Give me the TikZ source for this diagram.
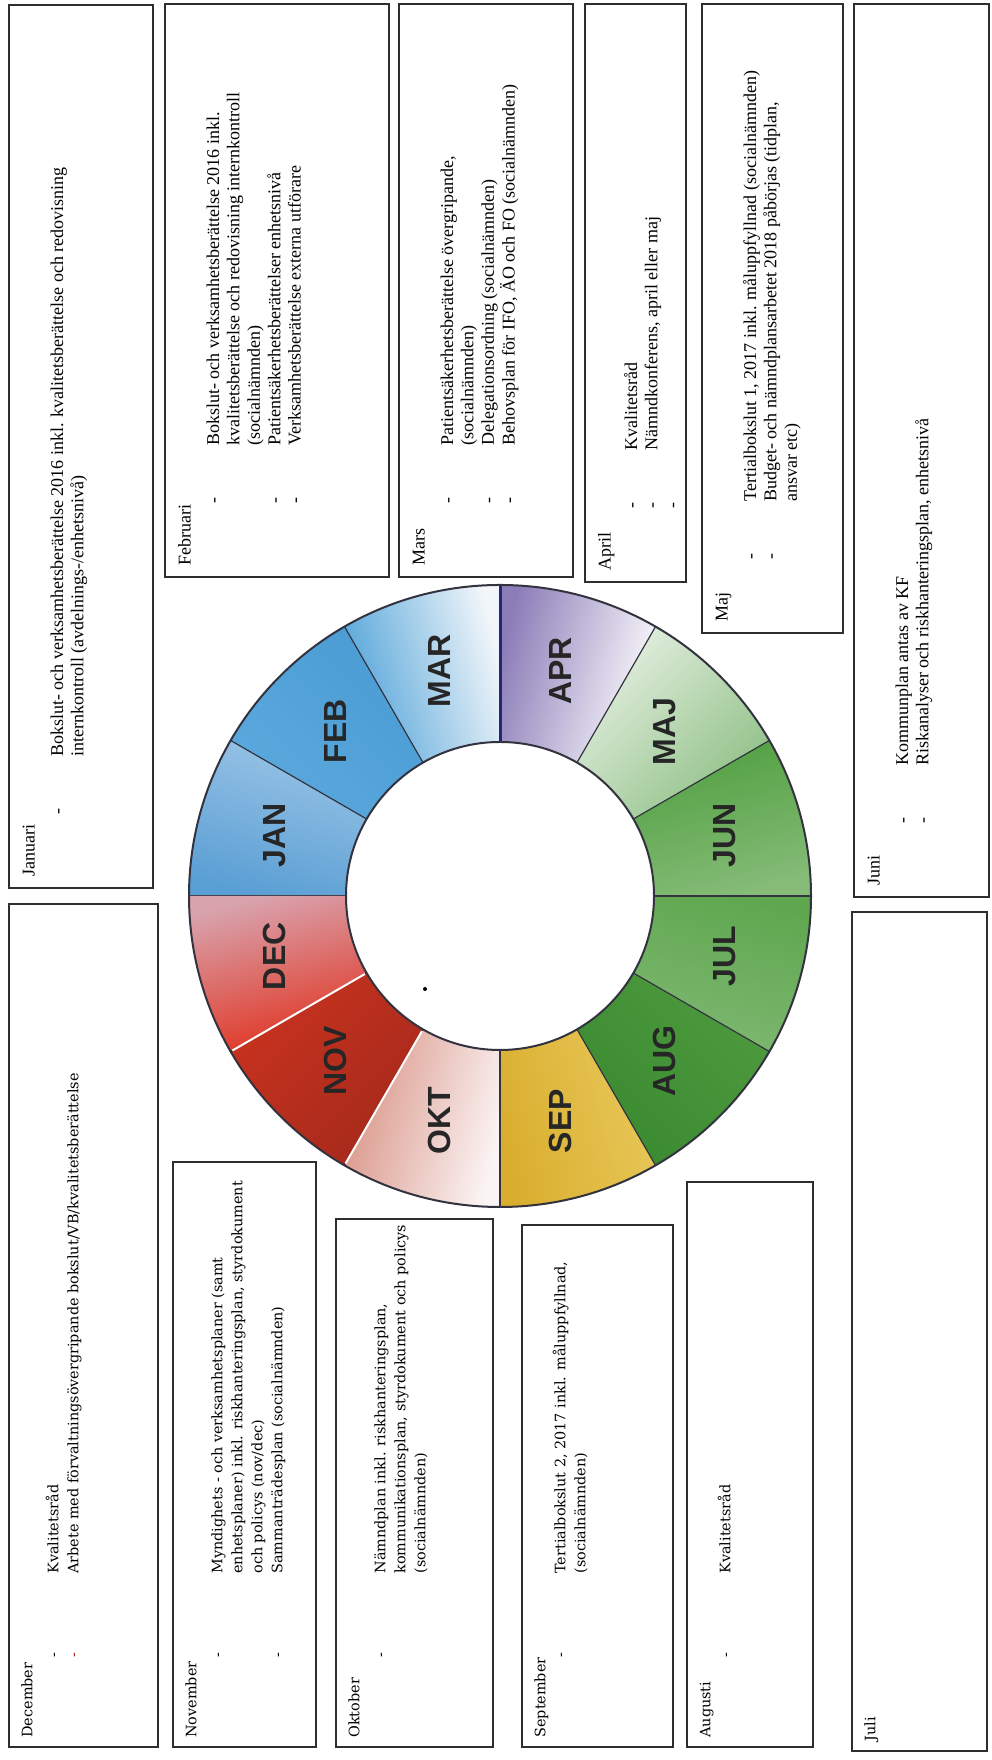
\documentclass[tikz,border=0pt]{standalone}
\usepackage{fontspec}
\setmainfont{Liberation Serif}
\newfontfamily\widefont{DejaVu Serif}
\newfontfamily\labelfont{Liberation Sans}
\usepackage{tikz}
\usetikzlibrary{positioning}
\definecolor{boxline}{rgb}{0.18,0.18,0.18}
\definecolor{ringline}{rgb}{0.2,0.2,0.25}
\definecolor{navy}{rgb}{0.15,0.15,0.45}
\definecolor{dashred}{rgb}{0.65,0.1,0.1}
% ring colours
\definecolor{janA}{HTML}{5A9FD4}\definecolor{janB}{HTML}{9AC4E6}
\definecolor{febA}{HTML}{5BA9DD}\definecolor{febB}{HTML}{4A9CD4}
\definecolor{marA}{HTML}{4FA2D8}\definecolor{marB}{HTML}{F2F6FA}
\definecolor{aprA}{HTML}{8C7DB8}\definecolor{aprB}{HTML}{FFFFFF}
\definecolor{majA}{HTML}{E4EFE0}\definecolor{majB}{HTML}{8FC086}
\definecolor{junA}{HTML}{4F9F40}\definecolor{junB}{HTML}{86BC78}
\definecolor{julA}{HTML}{5FA74F}\definecolor{julB}{HTML}{7FB872}
\definecolor{augA}{HTML}{4E9A3E}\definecolor{augB}{HTML}{3A8A30}
\definecolor{sepA}{HTML}{E8C85A}\definecolor{sepB}{HTML}{D9AE2E}
\definecolor{oktA}{HTML}{FBF4F4}\definecolor{oktB}{HTML}{D99486}
\definecolor{novA}{HTML}{A52A1C}\definecolor{novB}{HTML}{C8321E}
\definecolor{decA}{HTML}{E0321E}\definecolor{decB}{HTML}{D9A3AE}

\newcommand{\uptextfont}{\fontsize{9}{10.2}\selectfont}
\newcommand{\lowtextfont}{\widefont\fontsize{7.2}{10}\selectfont}
\newcommand{\hd}[1]{\multicolumn{3}{@{}l@{}}{#1}}
\newenvironment{uplist}{\begin{tabular}{@{}p{19pt}p{17pt}l@{}}}{\end{tabular}}
\newenvironment{lowlist}{\begin{tabular}{@{}p{28pt}p{30pt}l@{}}}{\end{tabular}}

\begin{document}
\begin{tikzpicture}[x=0.5pt, y=0.5pt,
    mbox/.style = {draw=boxline, line width=0.8pt, anchor=south west, inner sep=0pt},
    uptext/.style = {rotate=90, anchor=north west, inner sep=0pt, font=\uptextfont},
    lowtext/.style = {rotate=90, anchor=north west, inner sep=0pt, font=\lowtextfont},
    segline/.style = {draw=ringline, line width=0.6pt},
    monthlabel/.style = {rotate=90, text=black!85, font=\labelfont\bfseries\fontsize{16}{16}\selectfont}
    ]
    \fill[white] (0,0) rectangle (991,1760);
    \useasboundingbox (0,0) rectangle (991,1760);

    % upper boxes
    \node[mbox, minimum width=72pt, minimum height=441.5pt] (jan) at (8,871) {};
    \node[mbox, minimum width=112pt, minimum height=286.5pt] (feb) at (164,1182) {};
    \node[mbox, minimum width=87pt, minimum height=286.5pt] (mar) at (398,1182) {};
    \node[mbox, minimum width=50.5pt, minimum height=289pt] (apr) at (584,1177) {};
    \node[mbox, minimum width=70.5pt, minimum height=314.5pt] (maj) at (701,1126) {};
    \node[mbox, minimum width=67.5pt, minimum height=446.5pt] (jun) at (853,862) {};
    % lower boxes
    \node[mbox, minimum width=74.5pt, minimum height=421.5pt] (dec) at (8,12) {};
    \node[mbox, minimum width=71.5pt, minimum height=292.5pt] (nov) at (172,12) {};
    \node[mbox, minimum width=78.5pt, minimum height=264pt] (okt) at (335,12) {};
    \node[mbox, minimum width=75.5pt, minimum height=261pt] (sep) at (521,12) {};
    \node[mbox, minimum width=63pt, minimum height=282.5pt] (aug) at (686,12) {};
    \node[mbox, minimum width=67.5pt, minimum height=419.5pt] (jul) at (851,8) {};

    % texts
    \node[uptext] (jantext) at ([shift={(12,12)}]jan.south west) {\begin{uplist}
        \hd{Januari}\\[4pt]
        & - & Bokslut- och verksamhetsberättelse 2016 inkl. kvalitetsberättelse och redovisning\\
        & & internkontroll (avdelnings-/enhetsnivå)
        \end{uplist}};
    \node[uptext] (febtext) at ([shift={(12,12)}]feb.south west) {\begin{uplist}
        \hd{Februari}\\[4pt]
        & - & Bokslut- och verksamhetsberättelse 2016 inkl.\\
        & & kvalitetsberättelse och redovisning internkontroll\\
        & & (socialnämnden)\\
        & - & Patientsäkerhetsberättelser enhetsnivå\\
        & - & Verksamhetsberättelse externa utförare
        \end{uplist}};
    \node[uptext] (martext) at ([shift={(12,12)}]mar.south west) {\begin{uplist}
        \hd{Mars}\\[4pt]
        & - & Patientsäkerhetsberättelse övergripande,\\
        & & (socialnämnden)\\
        & - & Delegationsordning (socialnämnden)\\
        & - & Behovsplan för IFO, ÄO och FO (socialnämnden)
        \end{uplist}};
    \node[uptext] (aprtext) at ([shift={(12,12)}]apr.south west) {\begin{uplist}
        \hd{April}\\[3pt]
        & - & Kvalitetsråd\\
        & - & Nämndkonferens, april eller maj\\
        & - &
        \end{uplist}};
    \node[uptext] (majtext) at ([shift={(12,12)}]maj.south west) {\begin{uplist}
        \hd{Maj}\\[4pt]
        & - & Tertialbokslut 1, 2017 inkl. måluppfyllnad (socialnämnden)\\
        & - & Budget- och nämndplansarbetet 2018 påbörjas (tidplan,\\
        & & ansvar etc)
        \end{uplist}};
    \node[uptext] (juntext) at ([shift={(12,12)}]jun.south west) {\begin{uplist}
        \hd{Juni}\\[4pt]
        & - & Kommunplan antas av KF\\
        & - & Riskanalyser och riskhanteringsplan, enhetsnivå
        \end{uplist}};
    \node[lowtext] (dectext) at ([shift={(10,10)}]dec.south west) {\begin{lowlist}
        \hd{December}\\[3pt]
        & - & Kvalitetsråd\\
        & \textcolor{dashred}{-} & Arbete med förvaltningsövergripande bokslut/VB/kvalitetsberättelse
        \end{lowlist}};
    \node[lowtext] (novtext) at ([shift={(10,10)}]nov.south west) {\begin{lowlist}
        \hd{November}\\[3pt]
        & - & Myndighets - och verksamhetsplaner (samt\\
        & & enhetsplaner) inkl. riskhanteringsplan, styrdokument\\
        & & och policys (nov/dec)\\
        & - & Sammanträdesplan (socialnämnden)
        \end{lowlist}};
    \node[lowtext] (okttext) at ([shift={(10,10)}]okt.south west) {\begin{lowlist}
        \hd{Oktober}\\[3pt]
        & - & Nämndplan inkl. riskhanteringsplan,\\
        & & kommunikationsplan, styrdokument och policys\\
        & & (socialnämnden)
        \end{lowlist}};
    \node[lowtext] (septext) at ([shift={(10,10)}]sep.south west) {\begin{lowlist}
        \hd{September}\\
        & - & Tertialbokslut 2, 2017 inkl. måluppfyllnad,\\
        & & (socialnämnden)
        \end{lowlist}};
    \node[lowtext] (augtext) at ([shift={(10,10)}]aug.south west) {\begin{lowlist}
        \hd{Augusti}\\
        & - & Kvalitetsråd
        \end{lowlist}};
    \node[lowtext] (jultext) at ([shift={(10,10)}]jul.south west) {\begin{lowlist}
        \hd{Juli}
        \end{lowlist}};

    % year wheel
    \begin{scope}[shift={(500,864)}]
        \foreach \nm/\a/\ca/\cb [evaluate=\a as \m using \a-15, evaluate=\a as \e using \a-30] in
            {JAN/180/janA/janB, FEB/150/febA/febB, MAR/120/marA/marB,
             APR/90/aprA/aprB, MAJ/60/majA/majB, JUN/30/junA/junB,
             JUL/0/julA/julB, AUG/-30/augA/augB, SEP/-60/sepA/sepB,
             OKT/-90/oktA/oktB, NOV/-120/novA/novB, DEC/-150/decA/decB}
        {
            \shade[left color=\ca, right color=\cb, shading angle=\m]
                (\a:311) arc[start angle=\a, end angle=\e, radius=311]
                -- (\e:154) arc[start angle=\e, end angle=\a, radius=154] -- cycle;
            \draw[segline] (\a:154) -- (\a:311);
            \node[monthlabel] (lbl\nm) at (\m:233) {\nm};
        }
        \draw[white, line width=1pt] (-150:156) -- (-150:309) (-120:156) -- (-120:309);
        \draw[navy, line width=1.5pt] (90:154) -- (90:311);
        \draw[ringline, line width=1pt] (0,0) circle[radius=311];
        \draw[ringline, line width=1pt] (0,0) circle[radius=154];
        \fill[black] (-75,-93) circle[radius=2];
    \end{scope}
\end{tikzpicture}
\end{document}
